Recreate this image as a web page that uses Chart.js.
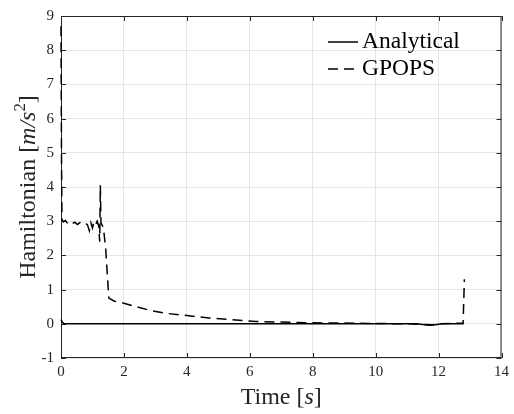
<!DOCTYPE html>
<html><head><meta charset="utf-8">
<script src="https://cdn.jsdelivr.net/npm/chart.js@4/dist/chart.umd.min.js"></script>
<style>html,body{margin:0;padding:0;background:#fff}</style>
</head><body>
<canvas id="c" width="514" height="414"></canvas>
<script>
const xTicks = [0, 2, 4, 6, 8, 10, 12, 14];
const yTicks = [-1, 0, 1, 2, 3, 4, 5, 6, 7, 8, 9];
const seriesNames = ['Analytical', 'GPOPS'];

const analyticalT = [0, 0.04, 0.09, 2, 4, 6, 8, 10, 11.3, 11.5, 11.7, 11.9, 12.1, 12.5, 12.8];
const analyticalH = [0.12, 0.05, 0.0, 0.0, 0.0, 0.0, 0.0, 0.0, 0.0, -0.02, -0.04, -0.03, 0.0, 0.0, 0.0];

const gpopsT = [0, 0.015, 0.03, 0.08, 0.14, 0.2, 0.28, 0.36, 0.44, 0.52, 0.6, 0.68, 0.76, 0.84, 0.9, 0.95, 1.0, 1.05, 1.1, 1.15, 1.2, 1.23, 1.25, 1.27, 1.3, 1.35, 1.42, 1.52, 1.7, 2.0, 2.4, 2.8, 3.3, 4.0, 4.7, 5.4, 6.2, 7.0, 8.0, 9.0, 10.0, 11.0, 11.5, 11.8, 12.0, 12.4, 12.78, 12.82];
const gpopsH = [8.7, 5.0, 3.05, 2.98, 3.02, 2.95, 2.99, 2.93, 2.97, 2.9, 2.96, 2.92, 2.95, 2.9, 2.72, 2.95, 2.8, 2.98, 2.9, 3.0, 2.85, 2.4, 4.05, 2.95, 2.9, 2.8, 2.2, 0.75, 0.66, 0.6, 0.5, 0.4, 0.31, 0.24, 0.17, 0.12, 0.07, 0.05, 0.03, 0.02, 0.01, 0.0, -0.02, -0.03, 0.0, 0.01, 0.02, 1.3];

const toPts = (t, h) => t.map((v, i) => ({x: v, y: h[i]}));

const INK = '#262626';
const SERIF = '"Liberation Serif", "DejaVu Serif", serif';

const decor = {
  id: 'decor',
  beforeDatasetsDraw(chart) {
    const {ctx, chartArea: a, scales} = chart;
    ctx.save();
    ctx.strokeStyle = INK; ctx.lineWidth = 1;
    ctx.strokeRect(a.left + 0.5, a.top + 0.5, a.right - a.left - 1, a.bottom - a.top - 1);
    const tl = 5;
    ctx.beginPath();
    xTicks.forEach(v => {
      const px = Math.round(scales.x.getPixelForValue(v)) + 0.5;
      ctx.moveTo(px, a.bottom); ctx.lineTo(px, a.bottom - tl);
      ctx.moveTo(px, a.top); ctx.lineTo(px, a.top + tl);
    });
    yTicks.forEach(v => {
      const py = Math.round(scales.y.getPixelForValue(v)) + 0.5;
      ctx.moveTo(a.left, py); ctx.lineTo(a.left + tl, py);
      ctx.moveTo(a.right, py); ctx.lineTo(a.right - tl, py);
    });
    ctx.stroke();
    ctx.restore();
  },
  afterDraw(chart) {
    const {ctx, chartArea: a} = chart;
    ctx.save();
    const drawMixed = (parts, size) => {
      let w = 0;
      parts.forEach(p => { ctx.font = (p.i ? 'italic ' : '') + (p.sup ? size * 0.7 : size) + 'px ' + SERIF; p.w = ctx.measureText(p.t).width; w += p.w; });
      let x = -w / 2;
      parts.forEach(p => {
        ctx.font = (p.i ? 'italic ' : '') + (p.sup ? size * 0.7 : size) + 'px ' + SERIF;
        ctx.fillText(p.t, x, p.sup ? -size * 0.4 : 0);
        x += p.w;
      });
    };
    ctx.fillStyle = INK; ctx.textAlign = 'left'; ctx.textBaseline = 'alphabetic';
    ctx.save();
    ctx.translate((a.left + a.right) / 2, 404);
    drawMixed([{t: 'Time ['}, {t: 's', i: true}, {t: ']'}], 24);
    ctx.restore();
    ctx.save();
    ctx.translate(35, (a.top + a.bottom) / 2);
    ctx.rotate(-Math.PI / 2);
    drawMixed([{t: 'Hamiltonian ['}, {t: 'm/s', i: true}, {t: '2', sup: true}, {t: ']'}], 24);
    ctx.restore();

    ctx.fillStyle = '#000'; ctx.strokeStyle = '#000'; ctx.lineWidth = 1.5;
    ctx.font = '23.5px ' + SERIF;
    const rows = [{y: 42, dash: []}, {y: 69, dash: [10, 6]}];
    rows.forEach((r, i) => {
      ctx.setLineDash(r.dash);
      ctx.beginPath(); ctx.moveTo(328, r.y); ctx.lineTo(358, r.y); ctx.stroke();
      ctx.fillText(seriesNames[i], 362, r.y + 6);
    });
    ctx.setLineDash([]);
    ctx.restore();
  }
};

new Chart(document.getElementById('c'), {
  type: 'scatter',
  data: {
    datasets: [
      {label: seriesNames[0], data: toPts(analyticalT, analyticalH), showLine: true, borderColor: '#000', borderWidth: 1.5, pointRadius: 0, tension: 0, clip: 4},
      {label: seriesNames[1], data: toPts(gpopsT, gpopsH), showLine: true, borderColor: '#000', borderWidth: 1.5, borderDash: [10, 6], pointRadius: 0, tension: 0, clip: 4}
    ]
  },
  options: {
    responsive: false, animation: false,
    layout: {padding: {left: 0, top: 12, right: 7, bottom: 0}},
    plugins: {legend: {display: false}, tooltip: {enabled: false}},
    scales: {
      x: {
        type: 'linear', min: 0, max: 14,
        afterBuildTicks: s => { s.ticks = xTicks.map(v => ({value: v})); },
        afterFit: s => { s.height = 56; },
        grid: {color: '#e6e6e6', drawTicks: false},
        border: {display: false},
        ticks: {color: INK, font: {family: SERIF, size: 15}, padding: 5, maxRotation: 0}
      },
      y: {
        type: 'linear', min: -1, max: 9,
        afterBuildTicks: s => { s.ticks = yTicks.map(v => ({value: v})); },
        afterFit: s => { s.width = 61; },
        grid: {color: '#e6e6e6', drawTicks: false},
        border: {display: false},
        ticks: {color: INK, font: {family: SERIF, size: 15}, padding: 7}
      }
    }
  },
  plugins: [decor]
});
</script>
</body></html>
